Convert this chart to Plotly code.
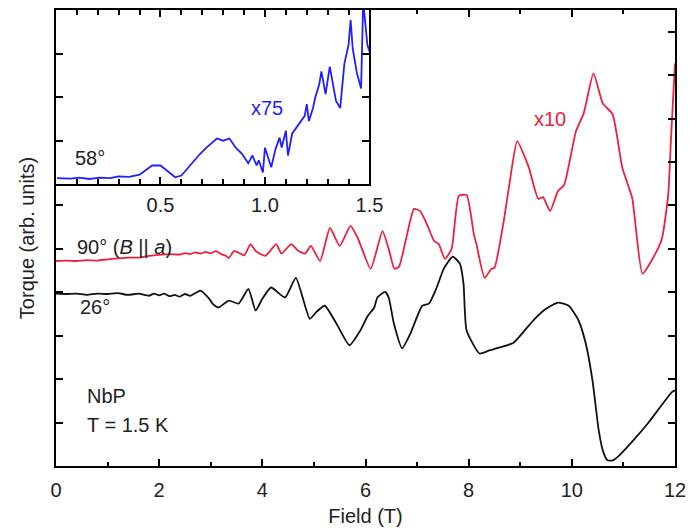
import plotly.graph_objects as go

# ---- data ----
black_field = [0.0, 0.2, 0.4, 0.6, 0.8, 1.0, 1.2, 1.4, 1.6, 1.8, 1.9, 2.0, 2.1, 2.2, 2.3, 2.4, 2.5, 2.6,
               2.8, 2.95, 3.05, 3.15, 3.35, 3.54, 3.73, 3.87, 4.0, 4.17, 4.44, 4.65, 4.92, 5.05, 5.21,
               5.45, 5.69, 5.9, 6.04, 6.17, 6.23, 6.38, 6.45, 6.55, 6.71, 6.87, 7.1, 7.23, 7.38, 7.52,
               7.69, 7.83, 7.9, 7.96, 8.21, 8.4, 8.6, 8.87, 9.25, 9.5, 9.73, 9.94, 10.13, 10.27, 10.4,
               10.52, 10.6, 10.69, 10.8, 10.9, 11.2, 11.48, 11.94, 12.0]
black_torque = [3.97, 3.96, 3.97, 3.94, 3.97, 3.96, 3.98, 3.94, 3.97, 3.92, 3.97, 3.93, 3.97, 3.91, 3.94,
                3.90, 3.96, 3.92, 4.04, 3.88, 3.72, 3.65, 3.81, 3.74, 4.08, 3.58, 3.85, 4.11, 3.88, 4.33,
                3.39, 3.55, 3.69, 3.25, 2.78, 3.12, 3.45, 3.65, 3.88, 4.01, 3.88, 3.28, 2.71, 3.05, 3.69,
                3.74, 4.11, 4.55, 4.82, 4.66, 4.20, 3.12, 2.59, 2.66, 2.73, 2.84, 3.35, 3.62, 3.76, 3.69,
                3.35, 2.82, 1.97, 0.83, 0.36, 0.13, 0.13, 0.22, 0.60, 0.99, 1.70, 1.74]

red_field = [0.0, 0.2, 0.4, 0.6, 0.8, 1.0, 1.2, 1.4, 1.6, 1.8, 2.0, 2.2, 2.4, 2.5, 2.6, 2.7, 2.8, 2.9,
             3.0, 3.1, 3.2, 3.29, 3.35, 3.45, 3.54, 3.65, 3.77, 3.87, 4.06, 4.27, 4.37, 4.56, 4.7, 4.83,
             4.94, 5.12, 5.31, 5.5, 5.71, 5.85, 6.1, 6.33, 6.45, 6.56, 6.65, 6.8, 6.94, 7.06, 7.19, 7.33,
             7.42, 7.54, 7.67, 7.81, 7.96, 8.1, 8.15, 8.31, 8.44, 8.5, 8.67, 8.79, 8.94, 9.12, 9.17, 9.35,
             9.44, 9.58, 9.73, 9.85, 10.08, 10.23, 10.42, 10.6, 10.79, 10.98, 11.17, 11.37, 11.62, 11.75,
             11.87, 11.92, 12.0]
red_torque = [4.72, 4.73, 4.72, 4.74, 4.73, 4.76, 4.78, 4.80, 4.80, 4.84, 4.86, 4.88, 4.87, 4.90, 4.88,
              4.92, 4.89, 4.93, 4.90, 4.95, 4.88, 4.84, 4.79, 4.95, 4.91, 4.85, 5.11, 4.95, 4.84, 5.11,
              4.89, 5.11, 4.95, 4.89, 5.07, 4.72, 5.48, 5.07, 5.53, 5.25, 4.54, 5.41, 5.00, 4.54, 4.59,
              5.30, 5.92, 5.87, 5.57, 5.18, 5.11, 4.77, 5.00, 6.22, 6.24, 5.34, 5.11, 4.33, 4.54, 4.56,
              5.57, 6.49, 7.48, 7.02, 6.86, 6.15, 6.19, 5.87, 6.33, 6.47, 7.71, 8.12, 9.04, 8.35, 8.10,
              6.86, 6.17, 4.43, 4.89, 5.25, 6.26, 7.48, 9.27]

blue_field = [0.005, 0.07, 0.11, 0.16, 0.21, 0.26, 0.30, 0.35, 0.40, 0.46, 0.50, 0.53, 0.57, 0.60, 0.65,
              0.69, 0.72, 0.75, 0.77, 0.80, 0.83, 0.86, 0.89, 0.92, 0.94, 0.96, 0.97, 0.99, 1.00, 1.03,
              1.05, 1.07, 1.08, 1.10, 1.11, 1.13, 1.15, 1.17, 1.19, 1.20, 1.21, 1.23, 1.24, 1.26, 1.27,
              1.29, 1.31, 1.34, 1.36, 1.38, 1.40, 1.41, 1.42, 1.44, 1.46, 1.47, 1.49, 1.50]
blue_torque = [0.14, 0.13, 0.15, 0.12, 0.15, 0.14, 0.18, 0.17, 0.22, 0.43, 0.43, 0.32, 0.16, 0.20, 0.48,
               0.70, 0.84, 0.98, 1.05, 1.00, 1.05, 0.84, 0.70, 0.48, 0.66, 0.43, 0.55, 0.27, 0.84, 0.39,
               0.80, 1.07, 0.84, 1.23, 0.66, 1.16, 1.30, 1.41, 1.57, 1.84, 1.45, 1.75, 1.98, 2.30, 2.59,
               2.07, 2.70, 1.91, 1.75, 2.77, 3.20, 3.77, 3.11, 2.55, 2.20, 4.20, 3.20, 3.05]

main_major_ticks = [0, 2, 4, 6, 8, 10, 12]
main_minor_ticks = [1, 3, 5, 7, 9, 11]
top_major_ticks = [8, 10]
top_minor_ticks = [7, 9, 11]
left_ticks = [1, 2, 3, 4, 5, 6]
right_ticks = [1, 2, 3, 4, 5, 6, 7, 8, 9, 10]
inset_major_ticks = [0.5, 1.0, 1.5]
inset_tick_labels = ["0.5", "1.0", "1.5"]
inset_minor_ticks = [0.1, 0.2, 0.3, 0.4, 0.6, 0.7, 0.8, 0.9, 1.1, 1.2, 1.3, 1.4]

FONT = "Liberation Sans, Arial, sans-serif"
TXT = "#222222"
RED = "#f0203c"
BLUE = "#1f1fff"

fig = go.Figure()
fig.add_trace(go.Scatter(x=black_field, y=black_torque, mode="lines",
                         line=dict(color="#111111", width=1.8, shape="spline", smoothing=0.5),
                         xaxis="x", yaxis="y", showlegend=False))
fig.add_trace(go.Scatter(x=red_field, y=red_torque, mode="lines",
                         line=dict(color=RED, width=1.8, shape="spline", smoothing=0.5),
                         xaxis="x", yaxis="y", showlegend=False))
fig.add_trace(go.Scatter(x=blue_field, y=blue_torque, mode="lines",
                         line=dict(color=BLUE, width=1.8),
                         xaxis="x2", yaxis="y2", showlegend=False))
# invisible traces so the overlay axes get drawn
fig.add_trace(go.Scatter(x=[None], y=[None], mode="lines", xaxis="x", yaxis="y3",
                         showlegend=False, hoverinfo="skip"))
fig.add_trace(go.Scatter(x=[None], y=[None], mode="lines", xaxis="x3", yaxis="y",
                         showlegend=False, hoverinfo="skip"))

axis_common = dict(showline=True, linecolor="black", linewidth=2, ticks="inside",
                   tickcolor="black", tickwidth=2, showgrid=False, zeroline=False)
minor_style = dict(ticks="inside", ticklen=4, tickcolor="black", tickwidth=1.5)

fig.update_layout(
    width=697, height=532,
    margin=dict(l=56, r=17, t=8, b=66),
    paper_bgcolor="white", plot_bgcolor="white",
    font=dict(family=FONT, size=20, color=TXT),
    xaxis=dict(domain=[0, 1], range=[0, 12], anchor="y", side="bottom",
               tickmode="array", tickvals=main_major_ticks, ticklen=7,
               minor=dict(tickmode="array", tickvals=main_minor_ticks, **minor_style),
               title=dict(text="Field (T)", font=dict(size=20, color=TXT), standoff=9),
               tickfont=dict(size=20, color=TXT), ticklabelstandoff=5,
               **axis_common),
    xaxis3=dict(overlaying="x", side="top", anchor="y", range=[0, 12],
                tickmode="array", tickvals=top_major_ticks, ticklen=7, showticklabels=False,
                minor=dict(tickmode="array", tickvals=top_minor_ticks, **minor_style),
                **axis_common),
    yaxis=dict(domain=[0, 1], range=[0, 10.5], anchor="x", side="right",
               tickmode="array", tickvals=right_ticks, ticklen=7,
               showticklabels=False, **axis_common),
    yaxis3=dict(overlaying="y", side="left", anchor="x", range=[0, 10.5],
                tickmode="array", tickvals=left_ticks, ticklen=7, showticklabels=False,
                title=dict(text="Torque (arb. units)", font=dict(size=20, color=TXT), standoff=14),
                **axis_common),
    xaxis2=dict(domain=[0, 0.5064], range=[0, 1.5], anchor="y2",
                tickmode="array", tickvals=inset_major_ticks, ticktext=inset_tick_labels,
                ticklen=7, mirror="ticks",
                minor=dict(tickmode="array", tickvals=inset_minor_ticks, ticks="inside",
                           ticklen=5, tickcolor="black", tickwidth=1.5),
                tickfont=dict(size=20, color=TXT), ticklabelstandoff=2,
                **axis_common),
    yaxis2=dict(domain=[0.6179, 1], range=[0, 4], anchor="x2",
                tickmode="array", tickvals=[1, 2, 3], ticklen=7, mirror="ticks",
                showticklabels=False, **axis_common),
)

ann = [
    dict(text="90° (<i>B</i> || <i>a</i>)", x=0.37, y=5.05, xref="x", yref="y", xanchor="left", font=dict(color=TXT)),
    dict(text="26°", x=0.42, y=3.67, xref="x", yref="y", xanchor="left", font=dict(color=TXT)),
    dict(text="x10", x=9.58, y=7.98, xref="x", yref="y", font=dict(color=RED)),
    dict(text="NbP", x=0.56, y=1.61, xref="x", yref="y", xanchor="left", font=dict(color=TXT)),
    dict(text="T = 1.5 K", x=0.56, y=0.94, xref="x", yref="y", xanchor="left", font=dict(color=TXT)),
    dict(text="58°", x=0.081, y=0.61, xref="x2", yref="y2", xanchor="left", font=dict(color=TXT)),
    dict(text="x75", x=1.01, y=1.75, xref="x2", yref="y2", font=dict(color=BLUE)),
]
for a in ann:
    a.update(showarrow=False, yanchor="middle")
    a["font"].update(size=20, family=FONT)
fig.update_layout(annotations=ann)

fig.write_html("out.html")
